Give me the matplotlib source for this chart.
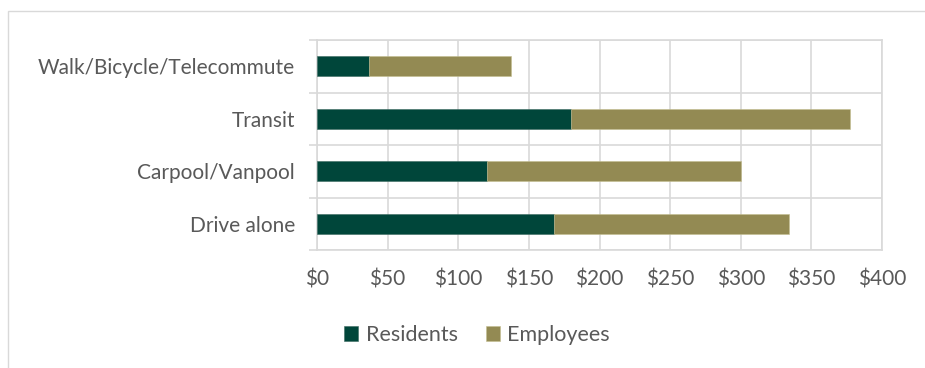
import matplotlib.pyplot as plt
from matplotlib.patches import Rectangle
from matplotlib.ticker import FixedLocator, NullFormatter

modes = ["Drive alone", "Carpool/Vanpool", "Transit", "Walk/Bicycle/Telecommute"]
residents = [168, 120, 180, 37]
employees = [166, 180, 197, 100]
xticks = [0, 50, 100, 150, 200, 250, 300, 350, 400]

green = "#00463A"
olive = "#938A53"
grey_text = "#595959"
grid_col = "#D9D9D9"

plt.rcParams["font.family"] = ["Lato", "DejaVu Sans"]

fig = plt.figure(figsize=(9.25, 3.68), dpi=100)
W, H = 925, 368
ax = fig.add_axes([317 / W, (H - 250) / H, (882 - 317) / W, 210 / H])

# chart border
fig.patches.append(Rectangle((8 / W, -0.1), 1.1, (H - 11) / H + 0.1,
                             transform=fig.transFigure, fill=False,
                             edgecolor="#D9D9D9", linewidth=1.0))

y = list(range(len(modes)))
ax.barh(y, residents, height=0.38, color=green, edgecolor="#3d6b62",
        linewidth=0.4, label="Residents", zorder=3)
ax.barh(y, employees, left=residents, height=0.38, color=olive,
        edgecolor="#c4bd90", linewidth=0.4, label="Employees", zorder=3)

ax.set_xlim(0, 400)
ax.set_ylim(-0.5, len(modes) - 0.5)
ax.set_xticks(xticks)
ax.set_xticklabels([f"${v}" for v in xticks])
ax.yaxis.set_major_locator(FixedLocator([i - 0.5 for i in range(len(modes) + 1)]))
ax.yaxis.set_major_formatter(NullFormatter())
ax.yaxis.set_minor_locator(FixedLocator(y))
ax.set_yticklabels(modes, minor=True)

ax.grid(True, which="major", color=grid_col, linewidth=1.2, zorder=0)
for s in ax.spines.values():
    s.set_color(grid_col)
    s.set_linewidth(1.2)

ax.tick_params(axis="x", length=0, pad=14, labelsize=15, labelcolor=grey_text)
ax.tick_params(axis="y", which="major", length=6, color=grid_col, width=1.2)
ax.tick_params(axis="y", which="minor", length=0, pad=16, labelsize=15,
               labelcolor=grey_text)

leg = fig.legend(loc="center", bbox_to_anchor=(477 / W, (H - 335) / H), ncol=2,
                 frameon=False, fontsize=15.5, handlelength=0.65, handleheight=0.65,
                 handletextpad=0.35, columnspacing=1.3)
for t in leg.get_texts():
    t.set_color(grey_text)

fig.savefig("out.png", dpi=100)
